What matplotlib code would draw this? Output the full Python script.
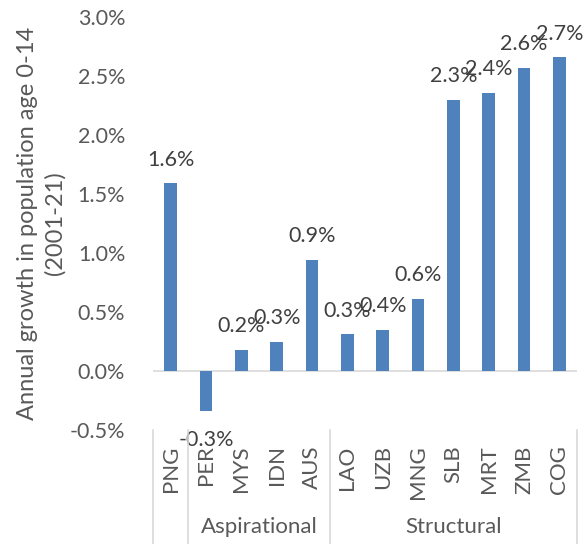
import matplotlib
matplotlib.use("Agg")
import matplotlib.pyplot as plt
from matplotlib.transforms import blended_transform_factory
from matplotlib.lines import Line2D
from matplotlib.ticker import FuncFormatter

countries = ["PNG", "PER", "MYS", "IDN", "AUS", "LAO", "UZB", "MNG", "SLB", "MRT", "ZMB", "COG"]
values = [1.59, -0.34, 0.18, 0.25, 0.94, 0.31, 0.35, 0.61, 2.30, 2.36, 2.57, 2.66]
labels = ["1.6%", "-0.3%", "0.2%", "0.3%", "0.9%", "0.3%", "0.4%", "0.6%", "2.3%", "2.4%", "2.6%", "2.7%"]
groups = ["", "Aspirational", "Structural"]
group_spans = [(0, 0), (1, 4), (5, 11)]
yticks = [-0.5, 0.0, 0.5, 1.0, 1.5, 2.0, 2.5, 3.0]

plt.rcParams['font.family'] = ['Lato', 'DejaVu Sans']
W, H = 584, 544
fig = plt.figure(figsize=(W / 100, H / 100), dpi=100)
ax = fig.add_axes([153 / W, 1 - 430 / H, (577 - 153) / W, (430 - 17) / H])

x = list(range(len(countries)))
ax.bar(x, values, width=0.35, color="#4F81BD", zorder=3)
ax.set_xlim(-0.5, len(countries) - 0.5)
ax.set_ylim(-0.5, 3.0)
ax.set_yticks(yticks)
ax.yaxis.set_major_formatter(FuncFormatter(lambda v, p: f"{v:.1f}%"))
ax.tick_params(axis='y', length=0, pad=20, labelsize=15.5, labelcolor="#595959")
ax.set_xticks(x)
ax.set_xticklabels(countries, rotation=90, fontsize=16, color="#595959", va='top')
ax.tick_params(axis='x', length=0, pad=11)
for s in ax.spines.values():
    s.set_visible(False)
ax.axhline(0, color="#D9D9D9", lw=1.2, zorder=2)

for xi, v, lab in zip(x, values, labels):
    off = 17 if v >= 0 else -21
    ax.annotate(lab, (xi, v), xytext=(0, off), textcoords="offset points",
                ha='center', va='center', fontsize=15.5, color="#404040", zorder=4,
                annotation_clip=False)

ax.set_ylabel("Annual growth in population age 0-14\n(2001-21)", fontsize=17,
              color="#595959", linespacing=1.35)
ax.yaxis.set_label_coords((66 - 153) / 424, 0.5)

trans = blended_transform_factory(ax.transData, fig.transFigure)
y_top = 1 - 430 / H
for b in [-0.5, 0.5, 4.5, 11.5]:
    fig.add_artist(Line2D([b, b], [0, y_top], transform=trans, color="#D9D9D9", lw=1.2))
for g, (a, b) in zip(groups, group_spans):
    if g:
        fig.text((a + b) / 2, 1 - 527 / H, g, transform=trans, ha='center', va='center',
                 fontsize=16, color="#595959")

fig.savefig("out.png", dpi=100)
